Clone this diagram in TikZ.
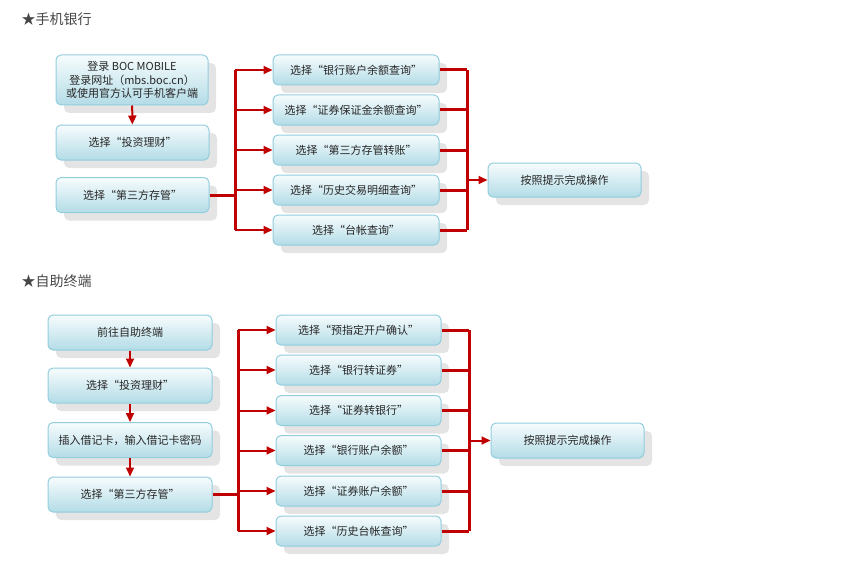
\documentclass[tikz,border=0pt]{standalone}
\usepackage{fontspec}
\setmainfont{Noto Sans CJK SC}
\usetikzlibrary{arrows.meta,shadows}
\definecolor{boxline}{HTML}{92CDDD}
\definecolor{boxtop}{HTML}{F7FCFD}
\definecolor{boxbot}{HTML}{B3DCE7}
\definecolor{linkred}{HTML}{C00000}
\definecolor{shade}{HTML}{E4E4E4}
\definecolor{ink}{HTML}{262626}
\tikzset{
  stepbox/.style={draw=boxline, line width=1pt, rounded corners=5pt,
    top color=boxtop, bottom color=boxbot, text=ink, align=center,
    font=\fontsize{11}{13.5}\selectfont, inner sep=0pt,
    general shadow={fill=shade, shadow xshift=8pt, shadow yshift=-8pt}},
  trunk/.style={linkred, line width=3pt},
  branch/.style={linkred, line width=2pt, -{Triangle[length=9pt,width=8pt]}},
  heading/.style={anchor=west, text=ink!85, font=\fontsize{14}{16}\selectfont},
}

\begin{document}
\begin{tikzpicture}[x=1pt,y=-1pt]
  \useasboundingbox (0,0) rectangle (853,567);
  % mobile banking
  \node[heading] (t1) at (18,19) {★手机银行};
  \node[stepbox, minimum width=152pt, minimum height=50pt] (a1) at (132,80)
    {登录 BOC MOBILE\\登录网址（mbs.boc.cn）\\或使用官方认可手机客户端};
  \node[stepbox, minimum width=153pt, minimum height=35pt] (a2) at (132.5,142.5) {选择“投资理财”};
  \node[stepbox, minimum width=153pt, minimum height=35pt] (a3) at (132.5,195) {选择“第三方存管”};
  \node[stepbox, minimum width=166pt, minimum height=30pt] (r1) at (356,70) {选择“银行账户余额查询”};
  \node[stepbox, minimum width=166pt, minimum height=30pt] (r2) at (356,110) {选择“证券保证金余额查询”};
  \node[stepbox, minimum width=166pt, minimum height=30pt] (r3) at (356,150) {选择“第三方存管转账”};
  \node[stepbox, minimum width=166pt, minimum height=30pt] (r4) at (356,190) {选择“历史交易明细查询”};
  \node[stepbox, minimum width=166pt, minimum height=30pt] (r5) at (356,230) {选择“台帐查询”};
  \node[stepbox, minimum width=153pt, minimum height=34pt] (fa) at (564.5,180) {按照提示完成操作};
  \coordinate (ja) at (235,195);
  \coordinate (ka) at (467,180);
  \draw[branch] (a1) -- (a2);
  \draw[trunk] (a3.east) -- (ja);
  \draw[trunk] (r1.west -| ja) -- (r5.west -| ja);
  \foreach \i in {1,...,5}
    \draw[branch] (r\i.west -| ja) -- (r\i.west);
  \draw[trunk] (r1.east -| ka) -- (r5.east -| ka);
  \foreach \i in {1,...,5}
    \draw[trunk] (r\i.east) -- (r\i.east -| ka);
  \draw[branch] (ka) -- (fa.west);

  % self-service terminal
  \node[heading] (t2) at (18,281) {★自助终端};
  \node[stepbox, minimum width=164pt, minimum height=35pt] (b1) at (130,332.5) {前往自助终端};
  \node[stepbox, minimum width=164pt, minimum height=35pt] (b2) at (130,385.5) {选择“投资理财”};
  \node[stepbox, minimum width=164pt, minimum height=35pt] (b3) at (130,440) {插入借记卡，输入借记卡密码};
  \node[stepbox, minimum width=164pt, minimum height=35pt] (b4) at (130,494.5) {选择“第三方存管”};
  \node[stepbox, minimum width=165pt, minimum height=30pt] (s1) at (358.5,330) {选择“预指定开户确认”};
  \node[stepbox, minimum width=165pt, minimum height=30pt] (s2) at (358.5,370) {选择“银行转证券”};
  \node[stepbox, minimum width=165pt, minimum height=30pt] (s3) at (358.5,410.5) {选择“证券转银行”};
  \node[stepbox, minimum width=165pt, minimum height=30pt] (s4) at (358.5,450.5) {选择“银行账户余额”};
  \node[stepbox, minimum width=165pt, minimum height=30pt] (s5) at (358.5,491) {选择“证券账户余额”};
  \node[stepbox, minimum width=165pt, minimum height=30pt] (s6) at (358.5,531) {选择“历史台帐查询”};
  \node[stepbox, minimum width=153pt, minimum height=35pt] (fb) at (567.5,440.5) {按照提示完成操作};
  \coordinate (jb) at (238,494.5);
  \coordinate (kb) at (469,440.5);
  \draw[branch] (b1) -- (b2);
  \draw[branch] (b2) -- (b3);
  \draw[branch] (b3) -- (b4);
  \draw[trunk] (b4.east) -- (jb);
  \draw[trunk] (s1.west -| jb) -- (s6.west -| jb);
  \foreach \i in {1,...,6}
    \draw[branch] (s\i.west -| jb) -- (s\i.west);
  \draw[trunk] (s1.east -| kb) -- (s6.east -| kb);
  \foreach \i in {1,...,6}
    \draw[trunk] (s\i.east) -- (s\i.east -| kb);
  \draw[branch] (kb) -- (fb.west);
\end{tikzpicture}
\end{document}
